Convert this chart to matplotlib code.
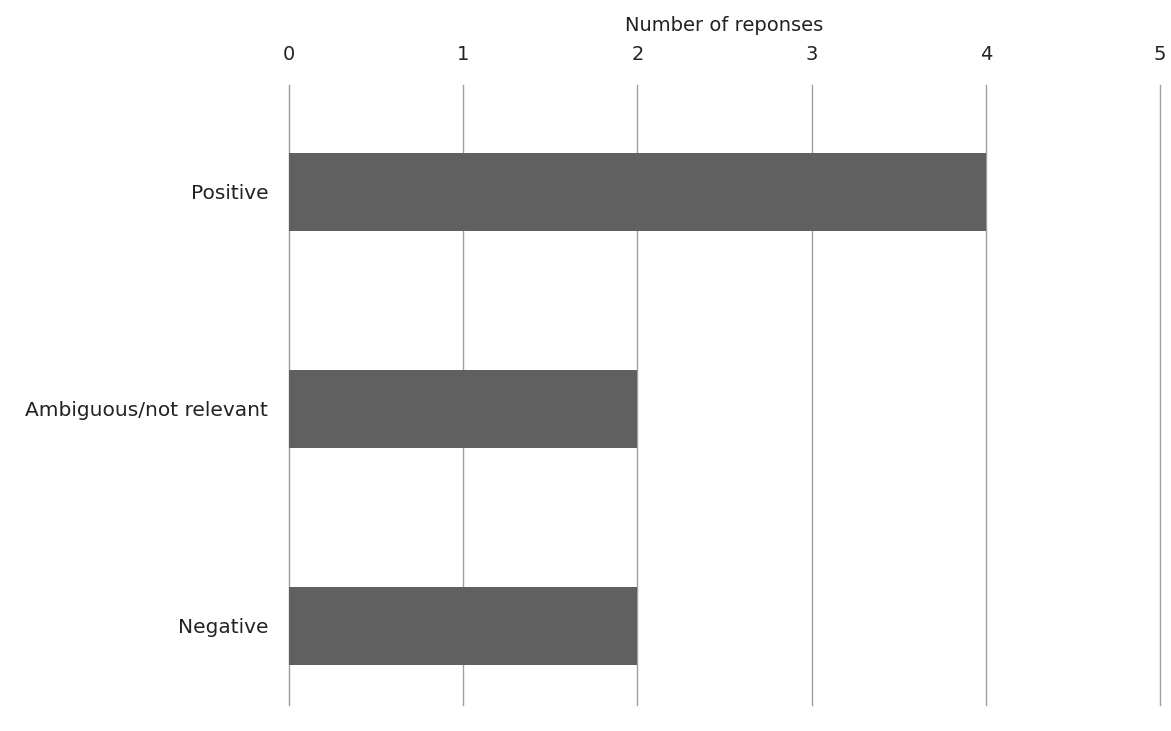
import matplotlib
matplotlib.use("Agg")
import matplotlib.pyplot as plt

categories = ["Positive", "Ambiguous/not relevant", "Negative"]
responses = [4, 2, 2]
x_ticks = [0, 1, 2, 3, 4, 5]

plt.rcParams['font.family'] = ['DejaVu Sans']

fig = plt.figure(figsize=(11.71, 7.31), dpi=100)
ax = fig.add_axes([0.2468, 0.0356, 0.7438, 0.8481])

ypos = list(range(len(categories)))
ax.barh(ypos, responses, height=0.355, color='#606060', zorder=3)

ax.set_xlim(0, 5)
ax.set_ylim(2.364, -0.493)
ax.set_xticks(x_ticks)
ax.set_yticks(ypos)
ax.set_yticklabels(categories, fontsize=14.5, color='#222222')
ax.xaxis.tick_top()
ax.xaxis.set_label_position('top')
ax.set_xlabel('Number of reponses', fontsize=14, labelpad=10, color='#222222')
ax.tick_params(axis='x', length=0, labelsize=14, labelcolor='#222222', pad=15)
ax.tick_params(axis='y', length=0, pad=15)
ax.grid(axis='x', color='#a0a0a0', linewidth=1, zorder=0)
for line in ax.get_xgridlines():
    line.set_clip_on(False)
for side in ['top', 'bottom', 'right']:
    ax.spines[side].set_visible(False)
ax.spines['left'].set_color('#a0a0a0')

fig.savefig('out.png', dpi=100)
